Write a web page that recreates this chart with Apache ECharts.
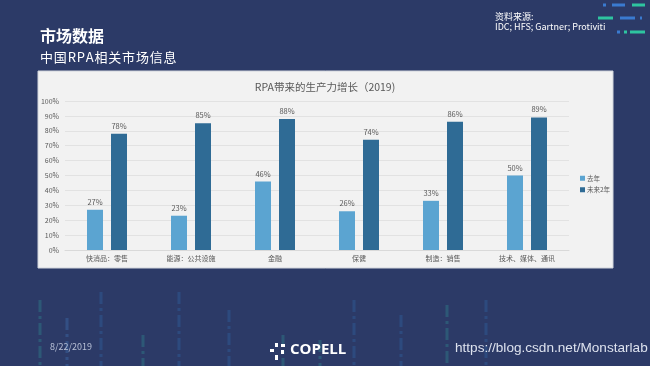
<!DOCTYPE html>
<html><head><meta charset="utf-8">
<script src="https://cdn.jsdelivr.net/npm/echarts@6/dist/echarts.min.js"></script>
<style>html,body{margin:0;padding:0;background:#2c3a67;}#c{width:650px;height:366px;}</style>
</head><body><div id="c"></div>
<script>
const categories = ['快消品：零售','能源：公共设施','金融','保健','制造：销售','技术、媒体、通讯'];
const lastYear = [27,23,46,26,33,50];
const next2Years = [78,85,88,74,86,89];
const seriesNames = ['去年','未来2年'];
const yTicks = [0,10,20,30,40,50,60,70,80,90,100];

const chart = echarts.init(document.getElementById('c'));
const F = '"Noto Sans CJK SC","Noto Sans",sans-serif';

const deco = [];
const vlines = [[40,300,'#2e7f8a'],[67,318,'#3b6aa8'],[101,292,'#2f5f9c'],[143,335,'#2e7f8a'],[179,292,'#2f5f9c'],[229,310,'#2f5f9c'],[283,335,'#2e7f8a'],[320,340,'#2e7f8a'],[354,300,'#2f5f9c'],[401,315,'#2f5f9c'],[447,305,'#2e7f8a'],[486,300,'#2f5f9c']];
vlines.forEach(v=>deco.push({type:'line',silent:true,z:-1,shape:{x1:v[0],y1:v[1],x2:v[0],y2:366},style:{stroke:v[2],lineWidth:3,lineDash:[12,4,3,4],opacity:0.45}}));
const dashes = [[603,606,5,'#3a7ad0'],[612,625,5,'#3a7ad0'],[632,645,5,'#2ec4a0'],[598,613,18,'#2ec4a0'],[620,635,18,'#3a7ad0'],[640,642,18,'#3a7ad0'],[617,620,32,'#3a7ad0'],[624,627,32,'#2ec4a0'],[630,645,32,'#2ec4a0']];
dashes.forEach(d=>deco.push({type:'line',silent:true,shape:{x1:d[0],y1:d[2],x2:d[1],y2:d[2]},style:{stroke:d[3],lineWidth:3}}));

const hs = '\u200A';
const graphics = [
  {type:'rect',z:-2,silent:true,shape:{x:38,y:71,width:575,height:197},style:{fill:'#f2f2f2',stroke:'#d0d4dc',lineWidth:1}},
  {type:'text',left:40,top:28,style:{text:'市场数据',fill:'#ffffff',font:'bold 16px '+F}},
  {type:'text',left:40,top:51,style:{text:'中国RPA相关市场信息'.split('').join(hs),fill:'#ffffff',font:'13px '+F}},
  {type:'text',left:495,top:12,style:{text:'资料来源:\nIDC; HFS; Gartner; Protiviti',fill:'#ffffff',font:'9px '+F,lineHeight:10}},
  {type:'text',left:50,top:342,style:{text:'8/22/2019',fill:'#b8c0d6',font:'9px '+F}},
  {type:'text',left:455,top:341,style:{text:'https://blog.csdn.net/Monstarlab',fill:'#dde2ee',font:'13.6px "Liberation Sans",Arial,sans-serif'}},
  {type:'text',left:290,top:342,style:{text:'COPELL',fill:'#ffffff',font:'bold 15px "Open Sans",sans-serif'}},
  {type:'rect',shape:{x:275,y:343,width:3,height:4},style:{fill:'#ffffff'}},
  {type:'rect',shape:{x:281,y:344,width:4,height:3},style:{fill:'#ffffff'}},
  {type:'rect',shape:{x:270,y:349,width:4,height:3},style:{fill:'#ffffff'}},
  {type:'rect',shape:{x:281,y:350,width:3,height:4},style:{fill:'#ffffff'}},
  {type:'rect',shape:{x:275,y:355,width:3,height:5},style:{fill:'#ffffff'}},
].concat(deco);

const lbl = {show:true,position:'top',formatter:'{c}%',color:'#595959',fontSize:7.5,fontFamily:F,distance:4};
chart.setOption({
  backgroundColor:'#2c3a67',
  animation:false,
  title:{text:'RPA带来的生产力增长（2019)',left:'center',top:77,textStyle:{color:'#595959',fontSize:10.5,fontWeight:'normal',fontFamily:F}},
  graphic:graphics,
  legend:{orient:'vertical',left:575,top:170,itemWidth:5,itemHeight:5,itemGap:5,icon:'rect',textStyle:{color:'#595959',fontSize:6.5,fontFamily:F,padding:[0,0,0,-3]},data:seriesNames},
  grid:{left:65,right:81,top:101,bottom:116},
  xAxis:{type:'category',data:categories,axisTick:{show:false},axisLine:{lineStyle:{color:'#d9d9d9'}},axisLabel:{color:'#595959',fontSize:7,fontFamily:F,margin:5,interval:0}},
  yAxis:{type:'value',min:0,max:100,interval:10,axisLabel:{formatter:'{value}%',color:'#595959',fontSize:7,fontFamily:F,margin:6},splitLine:{lineStyle:{color:'#e2e2e2'}},axisLine:{show:false},axisTick:{show:false}},
  series:[
    {name:seriesNames[0],type:'bar',data:lastYear,barWidth:16,barGap:'50%',itemStyle:{color:'#5ba4d1'},label:lbl},
    {name:seriesNames[1],type:'bar',data:next2Years,barWidth:16,itemStyle:{color:'#2f6b95'},label:lbl}
  ]
});
</script></body></html>
